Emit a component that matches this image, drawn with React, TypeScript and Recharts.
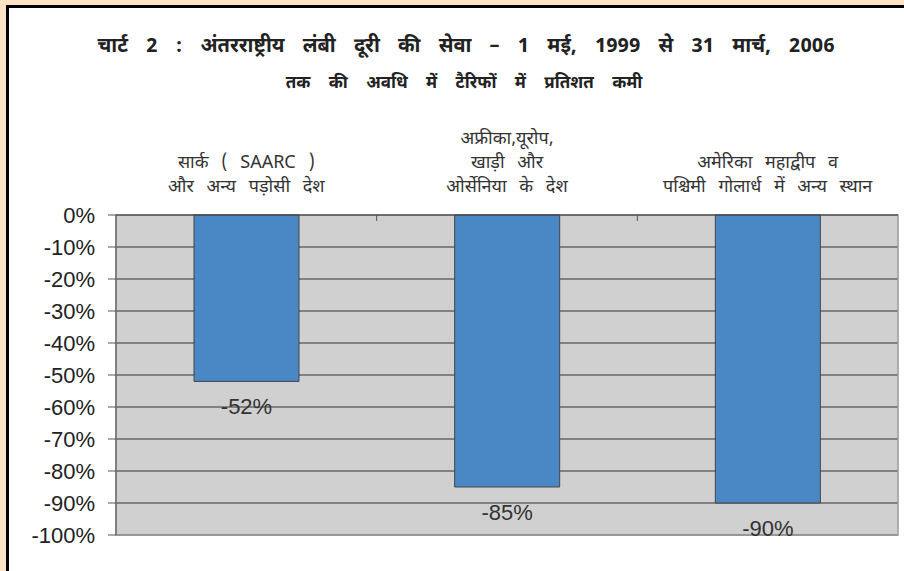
import { BarChart, Bar, XAxis, YAxis, CartesianGrid, LabelList, ReferenceArea } from "recharts"

const regions = ["saarc", "africa", "america"]
const regionLabels = [
  ["सार्क ( SAARC )", "और अन्य पड़ोसी देश"],
  ["अफ्रीका,यूरोप,", "खाड़ी और", "ओर्सेनिया के देश"],
  ["अमेरिका महाद्वीप व", "पश्चिमी गोलार्ध में अन्य स्थान"],
]
const reduction = [-52, -85, -90]
const yTicks = [0, -10, -20, -30, -40, -50, -60, -70, -80, -90, -100]

const title1 = "चार्ट 2 : अंतरराष्ट्रीय लंबी दूरी की सेवा – 1 मई, 1999 से 31 मार्च, 2006"
const title2 = "तक की अवधि में टैरिफों में प्रतिशत कमी"

const data = regions.map((r, i) => ({ region: r, value: reduction[i] }))

const hindiFont = "'Noto Sans Devanagari', 'Lohit Devanagari', 'FreeSans', 'Noto Sans', sans-serif"
const latinFont = "'Liberation Sans', Arial, sans-serif"

function RegionTick(props: any) {
  const { x, y, payload, index } = props
  const lines = regionLabels[index] || []
  const n = lines.length
  const off = payload && payload.offset
  return (
    <g>
      <text x={x} y={y} textAnchor="middle" fill="#333" fontSize={18} fontFamily={hindiFont} style={{ wordSpacing: 8 }}>
        {lines.map((l, i) => (
          <tspan key={i} x={x} y={y - 23 - (n - 1 - i) * 24}>{l}</tspan>
        ))}
      </text>
      {index < regionLabels.length - 1 && off ? (
        <line x1={x + off} x2={x + off} y1={y} y2={y + 6} stroke="#555" />
      ) : null}
    </g>
  )
}

function ValueLabel(props: any) {
  const { x, y, width, height, value } = props
  const bottom = Math.max(y, y + height)
  return (
    <text x={x + width / 2} y={bottom + 33} textAnchor="middle" fill="#333" fontSize={22} fontFamily={latinFont}>
      {value}%
    </text>
  )
}

export default function App() {
  return (
    <div style={{ position: "fixed", left: 0, top: 0, width: 904, height: 571, background: "#FDE3C3", overflow: "hidden" }}>
      <div style={{ position: "absolute", left: 6, top: 5, width: 920, height: 600, background: "#fff", borderLeft: "3px solid #000", borderTop: "3px solid #000" }} />
      <div style={{ position: "absolute", left: 14, top: 34, width: 904, textAlign: "center", fontFamily: hindiFont, fontWeight: "bold", fontSize: 20, wordSpacing: 13, color: "#222" }}>{title1}</div>
      <div style={{ position: "absolute", left: 12, top: 73, width: 904, textAlign: "center", fontFamily: hindiFont, fontWeight: "bold", fontSize: 17, wordSpacing: 14, color: "#222" }}>{title2}</div>
      <div style={{ position: "absolute", left: 0, top: 0 }}>
        <BarChart width={904} height={571} data={data} margin={{ top: 0, right: 6, bottom: 36, left: 0 }} barSize={105}>
          <CartesianGrid vertical={false} stroke="#333" fill="#D0D0D0" />
          <ReferenceArea y1={-100} y2={0} fill="none" stroke="#999" strokeWidth={1.5} />
          <XAxis dataKey="region" orientation="top" height={215} tickLine={false} tickSize={0} tickMargin={0} axisLine={{ stroke: "#444" }} tick={<RegionTick />} interval={0} />
          <YAxis
            domain={[-100, 0]}
            ticks={yTicks}
            width={116}
            tickSize={8}
            tickMargin={13}
            tickFormatter={(v) => `${v}%`}
            tick={{ fill: "#222", fontSize: 22, fontFamily: latinFont }}
            axisLine={{ stroke: "#555" }}
            tickLine={{ stroke: "#555" }}
            interval={0}
          />
          <Bar dataKey="value" fill="#4A87C5" stroke="#444" strokeWidth={1} isAnimationActive={false}>
            <LabelList dataKey="value" content={<ValueLabel />} />
          </Bar>
        </BarChart>
      </div>
    </div>
  )
}
